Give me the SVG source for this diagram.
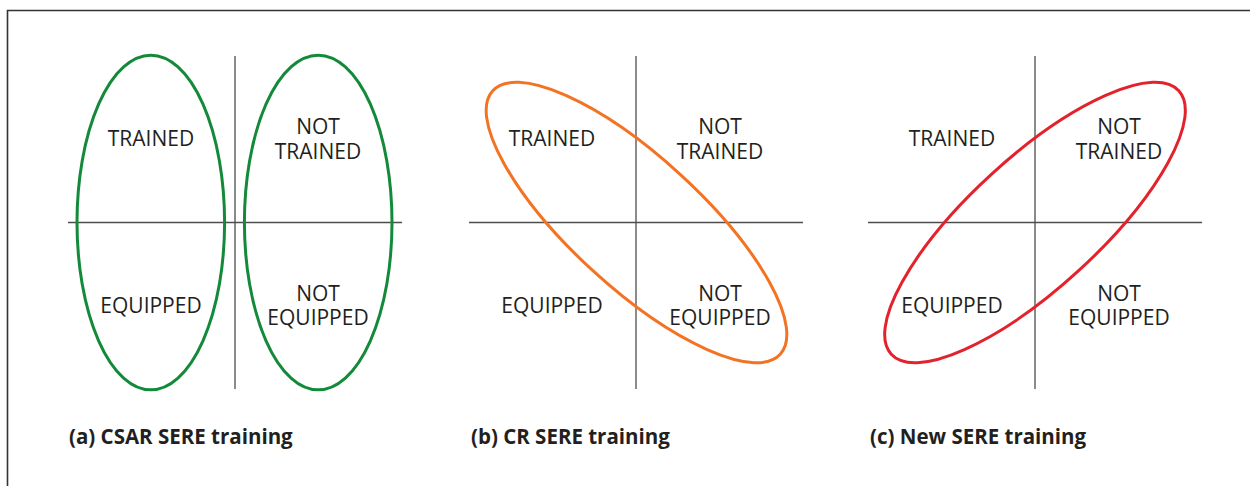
<svg xmlns="http://www.w3.org/2000/svg" width="1250" height="486" viewBox="0 0 1250 486">
<style>
.axis{stroke:#4d4d4d;stroke-width:1.3;fill:none}
.lbl{font-family:"Open Sans","Liberation Sans",sans-serif;font-size:21px;fill:#231f20;text-anchor:middle}
.cap{font-family:"Open Sans","Liberation Sans",sans-serif;font-size:20.5px;font-weight:bold;fill:#231f20}
.ell{fill:none;stroke-width:3}
</style>
<rect width="1250" height="486" fill="#ffffff"/>
<path d="M7.5 490 V10.5 H1255" fill="none" stroke="#333333" stroke-width="1.6"/>
<g id="panel-a">
<line class="axis" x1="235" y1="56" x2="235" y2="389"/>
<line class="axis" x1="68" y1="222.5" x2="402" y2="222.5"/>
<ellipse class="ell" cx="150.8" cy="222.5" rx="73.8" ry="167.3" stroke="#138a3a"/>
<ellipse class="ell" cx="318.2" cy="222.5" rx="73.8" ry="167.3" stroke="#138a3a"/>
<text class="lbl" x="151" y="146">TRAINED</text>
<text class="lbl" x="318" y="134">NOT</text>
<text class="lbl" x="318" y="158.5">TRAINED</text>
<text class="lbl" x="151" y="313">EQUIPPED</text>
<text class="lbl" x="318" y="300.5">NOT</text>
<text class="lbl" x="318" y="325">EQUIPPED</text>
<text class="cap" x="69" y="444">(a) CSAR SERE training</text>
</g>
<g id="panel-b">
<line class="axis" x1="636" y1="56" x2="636" y2="389"/>
<line class="axis" x1="469" y1="222.5" x2="803" y2="222.5"/>
<ellipse class="ell" cx="636.5" cy="222.5" rx="195" ry="65" transform="rotate(42.5 636.5 222.5)" stroke="#f47323"/>
<text class="lbl" x="552" y="146">TRAINED</text>
<text class="lbl" x="720" y="134">NOT</text>
<text class="lbl" x="720" y="158.5">TRAINED</text>
<text class="lbl" x="552" y="313">EQUIPPED</text>
<text class="lbl" x="720" y="300.5">NOT</text>
<text class="lbl" x="720" y="325">EQUIPPED</text>
<text class="cap" x="471" y="444">(b) CR SERE training</text>
</g>
<g id="panel-c">
<line class="axis" x1="1035" y1="56" x2="1035" y2="389"/>
<line class="axis" x1="868" y1="222.5" x2="1202" y2="222.5"/>
<ellipse class="ell" cx="1035" cy="222.5" rx="195" ry="65" transform="rotate(-42.5 1035 222.5)" stroke="#e4222b"/>
<text class="lbl" x="952" y="146">TRAINED</text>
<text class="lbl" x="1119" y="134">NOT</text>
<text class="lbl" x="1119" y="158.5">TRAINED</text>
<text class="lbl" x="952" y="313">EQUIPPED</text>
<text class="lbl" x="1119" y="300.5">NOT</text>
<text class="lbl" x="1119" y="325">EQUIPPED</text>
<text class="cap" x="870" y="444">(c) New SERE training</text>
</g>
<g id="connectors"></g>
</svg>
